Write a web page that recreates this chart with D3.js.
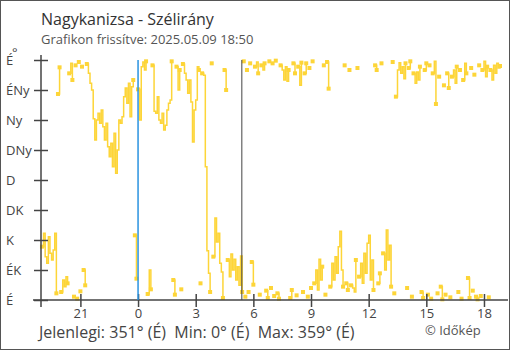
<!DOCTYPE html>
<meta charset="utf-8">
<script src="https://d3js.org/d3.v7.min.js"></script>
<style>
body{margin:0;background:#fff}
text{font-family:"Open Sans",sans-serif}
</style>
<div id="chart"></div>
<script>

// wind direction, one reading every 5 minutes, first reading 19:00 on the previous day
var startMinute = -300
var stepMinutes = 5

// 19:00 - 23:55
var dirEvening = [80,100,65,55,95,70,60,75,100,10,
	309,349,12,30,20,35,25,340,355,330,
	5,352,2,357,13,350,45,22,354,340,
	325,315,272,240,270,280,265,285,260,240,
	265,230,215,235,200,250,190,225,270,265,
	275,305,318,295,325,275,320,330,97,32]
// 00:00 - 05:25
var dirNight = [316,270,350,357,345,358,9,45,16,352,
	283,280,305,270,265,280,255,262,285,295,
	300,358,30,8,350,315,345,16,354,340,
	330,310,330,297,237,285,300,350,345,25,
	340,337,200,74,40,12,355,65,123,87,
	100,55,42,3,345,315,60,35,69,45,
	61,30,50,22,66,12]
// 05:30 - 11:55
var dirMorning = [358,5,345,12,355,57,23,350,357,340,
	8,352,345,355,14,3,358,18,355,6,
	359,10,2,352,345,330,350,328,345,3,
	15,355,340,7,350,322,356,12,340,355,
	5,348,18,358,25,45,15,61,30,50,
	352,8,357,317,20,55,30,65,40,80,
	103,45,20,352,25,15,345,22,18,12,
	60,348,35,55,25,70,40,85]
// 12:00 - 18:50
var dirAfternoon = [97,30,60,15,352,345,25,40,355,70,
	45,105,60,82,20,357,10,305,345,356,
	340,350,332,355,18,348,358,5,340,325,
	342,330,350,12,3,345,355,8,352,2,
	340,358,294,10,335,20,1,322,8,340,
	318,4,335,345,325,350,12,345,2,330,
	355,340,33,3,348,14,338,5,1,352,
	6,345,358,335,350,4,345,330,352,340,
	355,348,351]

var yTicks = [0,45,90,135,180,225,270,315,360]
var yTickLabels = ["É","ÉK","K","DK","D","DNy","Ny","ÉNy","É"]
var xTicks = [-180,0,180,360,540,720,900,1080]
var xTickLabels = ["21","0","3","6","9","12","15","18"]
var sunriseMinute = 324

var currentDir = 351, minDir = 0, maxDir = 359

var width = 510, height = 350
var colLine = "#fdd538"

var svg = d3.select("#chart").append("svg").attr("width",width).attr("height",height)

svg.append("rect").attr("x",0.5).attr("y",0.5).attr("width",width-1).attr("height",height-1)
	.attr("fill","#fff").attr("stroke","#555").attr("stroke-width",1)

svg.append("text").text("Nagykanizsa - Szélirány").attr("x",41).attr("y",25)
	.style("font-size","16px").attr("fill","#333")
svg.append("text").text("Grafikon frissítve: 2025.05.09 18:50").attr("x",41).attr("y",44)
	.style("font-size","13px").attr("fill","#555")

var x = d3.scaleLinear().domain([-303,1155]).range([41,508])
var y = d3.scaleLinear().domain([0,360]).range([300,60])

// build data
var all = dirEvening.concat(dirNight,dirMorning,dirAfternoon)
var data = all.map(function(v,i){ return {t:startMinute+i*stepMinutes, v:v} })

// split where the direction wraps over north
var segments = []
var seg = []
for(var i in data){
	var d = data[i]
	if(seg.length>0 && Math.abs(d.v-seg[seg.length-1].v)>180){
		segments.push(seg)
		seg = []
	}
	seg.push(d)
}
segments.push(seg)

var line = d3.line().x(d=>x(d.t)).y(d=>y(d.v)).curve(d3.curveStepAfter)

var plot = svg.append("g")
plot.selectAll(".seg")
	.data(segments.filter(s=>s.length>1))
	.join("path")
	.attr("d",line)
	.attr("fill","none")
	.attr("stroke",colLine)
	.attr("stroke-width",1.5)

var ends = []
segments.forEach(function(s){
	ends.push(s[0])
	if(s.length>1) ends.push(s[s.length-1])
})
plot.selectAll(".pt")
	.data(ends)
	.join("rect")
	.attr("x",d=>x(d.t)-2)
	.attr("y",d=>y(d.v)-2)
	.attr("width",4)
	.attr("height",4)
	.attr("fill",colLine)

// axes
var yAxis = svg.append("g").attr("transform","translate(41,0)")
	.call(d3.axisLeft(y).tickValues(yTicks).tickFormat((d,i)=>yTickLabels[i]).tickSizeOuter(0))
yAxis.select(".domain").remove()
yAxis.selectAll(".tick line").attr("x1",-7).attr("x2",7).attr("stroke","#444").attr("stroke-width",1.5)
yAxis.selectAll(".tick text").attr("x",-35).style("text-anchor","start")
	.style("font-size","13px").attr("fill","#444")

var xAxis = svg.append("g").attr("transform","translate(0,300)")
	.call(d3.axisBottom(x).tickValues(xTicks).tickFormat((d,i)=>xTickLabels[i]).tickSizeOuter(0))
xAxis.select(".domain").remove()
xAxis.selectAll(".tick line").attr("y1",-6).attr("y2",7).attr("stroke","#444").attr("stroke-width",1.5)
xAxis.selectAll(".tick text").attr("y",18).attr("dy",0)
	.style("font-size","13px").attr("fill","#444")

svg.append("line").attr("x1",x.range()[0]).attr("x2",x.range()[0]).attr("y1",55).attr("y2",307)
	.attr("stroke","#444").attr("stroke-width",1.5)
svg.append("line").attr("x1",33).attr("x2",x.range()[1]).attr("y1",y(0)).attr("y2",y(0))
	.attr("stroke","#444").attr("stroke-width",1.5)

svg.append("text").text("°").attr("x",12).attr("y",57).style("font-size","13px").attr("fill","#444")

// midnight and sunrise
svg.append("line").attr("x1",x(0)).attr("x2",x(0)).attr("y1",y(360)).attr("y2",y(0))
	.attr("stroke","#2a93e0").attr("stroke-width",1.5)
svg.append("line").attr("x1",x(sunriseMinute)).attr("x2",x(sunriseMinute)).attr("y1",y(360)).attr("y2",y(0))
	.attr("stroke","#444").attr("stroke-width",1)

svg.append("text")
	.text("Jelenlegi: "+currentDir+"° (É)  Min: "+minDir+"° (É)  Max: "+maxDir+"° (É)")
	.attr("x",39).attr("y",338).style("font-size","16px").style("white-space","pre").attr("fill","#444")
svg.append("text").text("© Időkép").attr("x",425).attr("y",335)
	.style("font-size","13px").attr("fill","#555")

</script>
